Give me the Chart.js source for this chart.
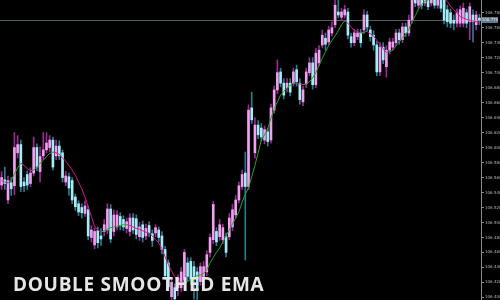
<!DOCTYPE html>
<html>
<head>
<meta charset="utf-8">
<title>Double Smoothed EMA</title>
<script src="https://cdn.jsdelivr.net/npm/chart.js@4.4.1/dist/chart.umd.min.js"></script>
<style>
    html, body { margin: 0; padding: 0; background: #000; }
    #wrap { width: 500px; height: 300px; }
</style>
</head>
<body>
<div id="wrap"><canvas id="dsemaChart" width="500" height="300"></canvas></div>
<script>
// ===================================
// DATOS (de izquierda a derecha)
// ===================================

const open = [
    106.550, 106.557, 106.530, 106.553, 106.549, 106.593, 106.604, 106.554, 106.564, 106.552,
    106.566, 106.600, 106.568, 106.589, 106.597, 106.600, 106.610, 106.589, 106.602, 106.593,
    106.554, 106.561, 106.556, 106.534, 106.525, 106.520, 106.512, 106.517, 106.480, 106.470,
    106.489, 106.482, 106.488, 106.490, 106.518, 106.488, 106.494, 106.508, 106.504, 106.492,
    106.488, 106.506, 106.505, 106.481, 106.497, 106.482, 106.496, 106.485, 106.486, 106.490,
    106.482, 106.464, 106.446, 106.401, 106.413, 106.413, 106.413, 106.424, 106.446, 106.448,
    106.441, 106.434, 106.421, 106.428, 106.434, 106.460, 106.477, 106.488, 106.481, 106.477,
    106.481, 106.481, 106.494, 106.510, 106.530, 106.548, 106.566, 106.548, 106.653, 106.593,
    106.630, 106.626, 106.610, 106.621, 106.610, 106.650, 106.677, 106.701, 106.686, 106.680,
    106.686, 106.686, 106.704, 106.686, 106.661, 106.685, 106.700, 106.713, 106.684, 106.713,
    106.737, 106.746, 106.741, 106.753, 106.764, 106.781, 106.774, 106.777, 106.781, 106.748,
    106.740, 106.748, 106.753, 106.757, 106.777, 106.757, 106.750, 106.737, 106.701, 106.734,
    106.708, 106.730, 106.734, 106.740, 106.753, 106.744, 106.761, 106.753, 106.770, 106.800,
    106.790, 106.798, 106.793, 106.797, 106.793, 106.798, 106.790, 106.800, 106.797, 106.784,
    106.780, 106.770, 106.766, 106.766, 106.766, 106.780, 106.768, 106.777, 106.764, 106.773
];

const high = [
    106.568, 106.574, 106.562, 106.560, 106.620, 106.616, 106.610, 106.560, 106.569, 106.573,
    106.614, 106.605, 106.601, 106.620, 106.620, 106.616, 106.614, 106.610, 106.609, 106.597,
    106.568, 106.566, 106.560, 106.538, 106.529, 106.525, 106.529, 106.522, 106.496, 106.493,
    106.494, 106.492, 106.504, 106.525, 106.524, 106.517, 106.516, 106.513, 106.509, 106.506,
    106.512, 106.512, 106.510, 106.500, 106.502, 106.498, 106.501, 106.490, 106.497, 106.494,
    106.488, 106.468, 106.450, 106.425, 106.418, 106.430, 106.440, 106.464, 106.453, 106.453,
    106.448, 106.440, 106.446, 106.448, 106.462, 106.485, 106.528, 106.493, 106.504, 106.498,
    106.486, 106.512, 106.524, 106.536, 106.554, 106.570, 106.594, 106.657, 106.674, 106.640,
    106.636, 106.632, 106.629, 106.626, 106.658, 106.682, 106.717, 106.706, 106.692, 106.692,
    106.692, 106.706, 106.710, 106.692, 106.682, 106.706, 106.720, 106.720, 106.732, 106.736,
    106.757, 106.753, 106.762, 106.768, 106.797, 106.797, 106.786, 106.790, 106.786, 106.753,
    106.758, 106.758, 106.758, 106.784, 106.782, 106.762, 106.756, 106.742, 106.740, 106.740,
    106.736, 106.746, 106.746, 106.758, 106.758, 106.766, 106.766, 106.777, 106.804, 106.805,
    106.805, 106.804, 106.805, 106.802, 106.805, 106.804, 106.802, 106.805, 106.802, 106.790,
    106.785, 106.777, 106.785, 106.789, 106.793, 106.785, 106.793, 106.784, 106.782, 106.778
];

const low = [
    106.544, 106.544, 106.525, 106.536, 106.537, 106.586, 106.541, 106.541, 106.544, 106.548,
    106.562, 106.569, 106.554, 106.584, 106.593, 106.594, 106.570, 106.584, 106.584, 106.554,
    106.549, 106.536, 106.525, 106.516, 106.509, 106.506, 106.508, 106.477, 106.474, 106.465,
    106.466, 106.469, 106.482, 106.485, 106.473, 106.482, 106.490, 106.490, 106.489, 106.486,
    106.482, 106.485, 106.478, 106.476, 106.474, 106.477, 106.481, 106.468, 106.481, 106.474,
    106.458, 106.424, 106.409, 106.397, 106.393, 106.402, 106.408, 106.418, 106.422, 106.417,
    106.398, 106.397, 106.416, 106.422, 106.429, 106.454, 106.472, 106.469, 106.476, 106.472,
    106.454, 106.477, 106.489, 106.506, 106.526, 106.544, 106.450, 106.544, 106.632, 106.586,
    106.612, 106.609, 106.605, 106.602, 106.606, 106.646, 106.672, 106.681, 106.665, 106.674,
    106.669, 106.682, 106.682, 106.658, 106.656, 106.680, 106.696, 106.678, 106.680, 106.709,
    106.733, 106.730, 106.737, 106.749, 106.760, 106.773, 106.770, 106.773, 106.745, 106.734,
    106.736, 106.744, 106.734, 106.752, 106.756, 106.742, 106.730, 106.696, 106.696, 106.712,
    106.694, 106.725, 106.730, 106.736, 106.738, 106.740, 106.748, 106.749, 106.766, 106.788,
    106.786, 106.785, 106.789, 106.784, 106.789, 106.786, 106.786, 106.781, 106.765, 106.761,
    106.760, 106.757, 106.761, 106.761, 106.761, 106.760, 106.744, 106.741, 106.757, 106.764
];

const close = [
    106.560, 106.552, 106.556, 106.545, 106.600, 106.604, 106.548, 106.549, 106.550, 106.566,
    106.600, 106.574, 106.588, 106.597, 106.606, 106.610, 106.574, 106.602, 106.589, 106.560,
    106.562, 106.546, 106.530, 106.521, 106.514, 106.513, 106.522, 106.482, 106.490, 106.488,
    106.473, 106.478, 106.497, 106.518, 106.478, 106.510, 106.510, 106.496, 106.494, 106.501,
    106.506, 106.490, 106.484, 106.494, 106.480, 106.492, 106.486, 106.476, 106.493, 106.480,
    106.464, 106.429, 106.414, 106.420, 106.398, 106.426, 106.434, 106.460, 106.428, 106.424,
    106.428, 106.410, 106.441, 106.441, 106.457, 106.480, 106.524, 106.474, 106.497, 106.493,
    106.460, 106.506, 106.517, 106.530, 106.549, 106.564, 106.548, 106.650, 106.637, 106.630,
    106.617, 106.614, 106.624, 106.608, 106.653, 106.677, 106.700, 106.686, 106.670, 106.686,
    106.674, 106.701, 106.688, 106.664, 106.677, 106.701, 106.713, 106.684, 106.726, 106.730,
    106.750, 106.738, 106.757, 106.760, 106.790, 106.777, 106.781, 106.784, 106.750, 106.740,
    106.753, 106.753, 106.740, 106.777, 106.761, 106.748, 106.737, 106.701, 106.734, 106.717,
    106.730, 106.741, 106.741, 106.753, 106.744, 106.761, 106.753, 106.770, 106.797, 106.793,
    106.798, 106.790, 106.800, 106.788, 106.800, 106.790, 106.797, 106.786, 106.770, 106.768,
    106.766, 106.766, 106.780, 106.784, 106.786, 106.766, 106.788, 106.768, 106.777, 106.770
];

const dsema = [
    106.556, 106.554, 106.553, 106.556, 106.565, 106.573, 106.579, 106.576, 106.572, 106.569,
    106.570, 106.574, 106.579, 106.583, 106.588, 106.592, 106.594, 106.593, 106.591, 106.586,
    106.582, 106.576, 106.570, 106.563, 106.554, 106.545, 106.534, 106.521, 106.508, 106.495,
    106.490, 106.487, 106.489, 106.491, 106.493, 106.494, 106.495, 106.496, 106.497, 106.497,
    106.496, 106.494, 106.492, 106.491, 106.489, 106.487, 106.486, 106.482, 106.477, 106.473,
    106.465, 106.454, 106.444, 106.435, 106.428, 106.422, 106.420, 106.419, 106.421, 106.424,
    106.427, 106.429, 106.430, 106.432, 106.437, 106.446, 106.453, 106.460, 106.466, 106.474,
    106.482, 106.490, 106.498, 106.506, 106.514, 106.527, 106.538, 106.546, 106.561, 106.576,
    106.593, 106.610, 106.617, 106.625, 106.639, 106.652, 106.661, 106.670, 106.675, 106.680,
    106.683, 106.686, 106.686, 106.685, 106.684, 106.685, 106.688, 106.693, 106.700, 106.710,
    106.719, 106.728, 106.736, 106.743, 106.749, 106.756, 106.764, 106.769, 106.766, 106.761,
    106.756, 106.755, 106.753, 106.754, 106.755, 106.752, 106.749, 106.743, 106.738, 106.732,
    106.727, 106.728, 106.730, 106.736, 106.741, 106.746, 106.751, 106.758, 106.768, 106.776,
    106.785, 106.791, 106.795, 106.797, 106.800, 106.801, 106.802, 106.801, 106.799, 106.795,
    106.789, 106.784, 106.780, 106.775, 106.773, 106.771, 106.770, 106.769, 106.768, 106.767
];

const categories = open.map((_, i) => 'Vela ' + (i + 1));

// Etiquetas del eje de precios
const tickValues = [
    106.400, 106.420, 106.440, 106.460, 106.480, 106.500, 106.520, 106.540, 106.560, 106.580,
    106.600, 106.620, 106.640, 106.660, 106.680, 106.700, 106.720, 106.740, 106.760, 106.780
];

const chartTitle = 'DOUBLE SMOOTHED EMA';

// ===================================
// ESTILOS
// ===================================

const bullBody = '#f0a0f0';
const bearBody = '#a6ecf6';
const bullWick = '#9a2a98';
const bearWick = '#2a7c8e';
const lineUp = '#22a626';
const lineDown = '#d0188c';

const isBull = (i) => close[i] >= open[i];

// Fondo negro, línea de precio actual, caja de precio y título
const overlayPlugin = {
    id: 'overlay',
    beforeDraw(chart) {
        const c = chart.ctx;
        c.save();
        c.fillStyle = '#000';
        c.fillRect(0, 0, chart.width, chart.height);
        c.restore();
    },
    beforeDatasetsDraw(chart) {
        const c = chart.ctx;
        const area = chart.chartArea;
        const y = Math.round(chart.scales.y.getPixelForValue(close[close.length - 1])) + 0.5;
        c.save();
        c.strokeStyle = '#585e66';
        c.lineWidth = 1;
        c.beginPath();
        c.moveTo(area.left, y);
        c.lineTo(area.right, y);
        c.stroke();
        c.restore();
    },
    afterDraw(chart) {
        const c = chart.ctx;
        const area = chart.chartArea;
        const last = close[close.length - 1];
        const y = chart.scales.y.getPixelForValue(last);

        c.save();
        c.fillStyle = '#66798c';
        c.fillRect(area.right + 1, Math.round(y) - 3, 16, 6);
        c.fillStyle = '#e8e8e8';
        c.font = '4px "DejaVu Sans"';
        c.textAlign = 'center';
        c.textBaseline = 'middle';
        c.fillText(last.toFixed(3), area.right + 9, Math.round(y));
        c.restore();

        c.save();
        c.fillStyle = '#e6e6e6';
        c.font = 'bold 19px "Open Sans"';
        if ('letterSpacing' in c) c.letterSpacing = '0.7px';
        c.textAlign = 'left';
        c.textBaseline = 'alphabetic';
        c.fillText(chartTitle, 13, 291);
        c.restore();
    }
};

// ===================================
// CHART.JS CONFIGURATION
// ===================================

const ctx = document.getElementById('dsemaChart');

const dsemaChart = new Chart(ctx, {
    type: 'bar',
    data: {
        labels: categories,
        datasets: [
            {
                type: 'line',
                label: 'DSEMA',
                data: dsema,
                borderWidth: 1,
                pointRadius: 0,
                tension: 0,
                borderColor: lineUp,
                segment: {
                    borderColor: (s) => s.p1.parsed.y >= s.p0.parsed.y ? lineUp : lineDown
                },
                order: 0
            },
            {
                label: 'Cuerpo',
                data: open.map((o, i) => [o, close[i]]),
                backgroundColor: (c) => isBull(c.dataIndex) ? bullBody : bearBody,
                barThickness: 2,
                minBarLength: 1,
                grouped: false,
                order: 1
            },
            {
                label: 'Mecha',
                data: low.map((l, i) => [l, high[i]]),
                backgroundColor: (c) => isBull(c.dataIndex) ? bullWick : bearWick,
                barThickness: 1,
                grouped: false,
                order: 2
            }
        ]
    },
    options: {
        responsive: false,
        animation: false,
        layout: { padding: 0 },
        plugins: {
            legend: { display: false },
            tooltip: { enabled: false }
        },
        scales: {
            x: {
                display: false,
                offset: true,
                grid: { display: false }
            },
            y: {
                position: 'right',
                min: 106.3965,
                max: 106.797,
                afterBuildTicks: (scale) => {
                    scale.ticks = tickValues.map(v => ({ value: v }));
                },
                afterFit: (scale) => {
                    scale.width = 19;
                    scale.paddingTop = 0;
                    scale.paddingBottom = 0;
                },
                ticks: {
                    color: '#b4b4b4',
                    padding: 1,
                    font: { family: 'DejaVu Sans', size: 4 },
                    callback: (v) => Number(v).toFixed(3)
                },
                grid: {
                    drawOnChartArea: false,
                    drawTicks: true,
                    tickLength: 3,
                    color: '#8a8a8a'
                },
                border: {
                    display: true,
                    color: '#8a8a8a',
                    width: 1
                }
            }
        }
    },
    plugins: [overlayPlugin]
});
</script>
</body>
</html>
